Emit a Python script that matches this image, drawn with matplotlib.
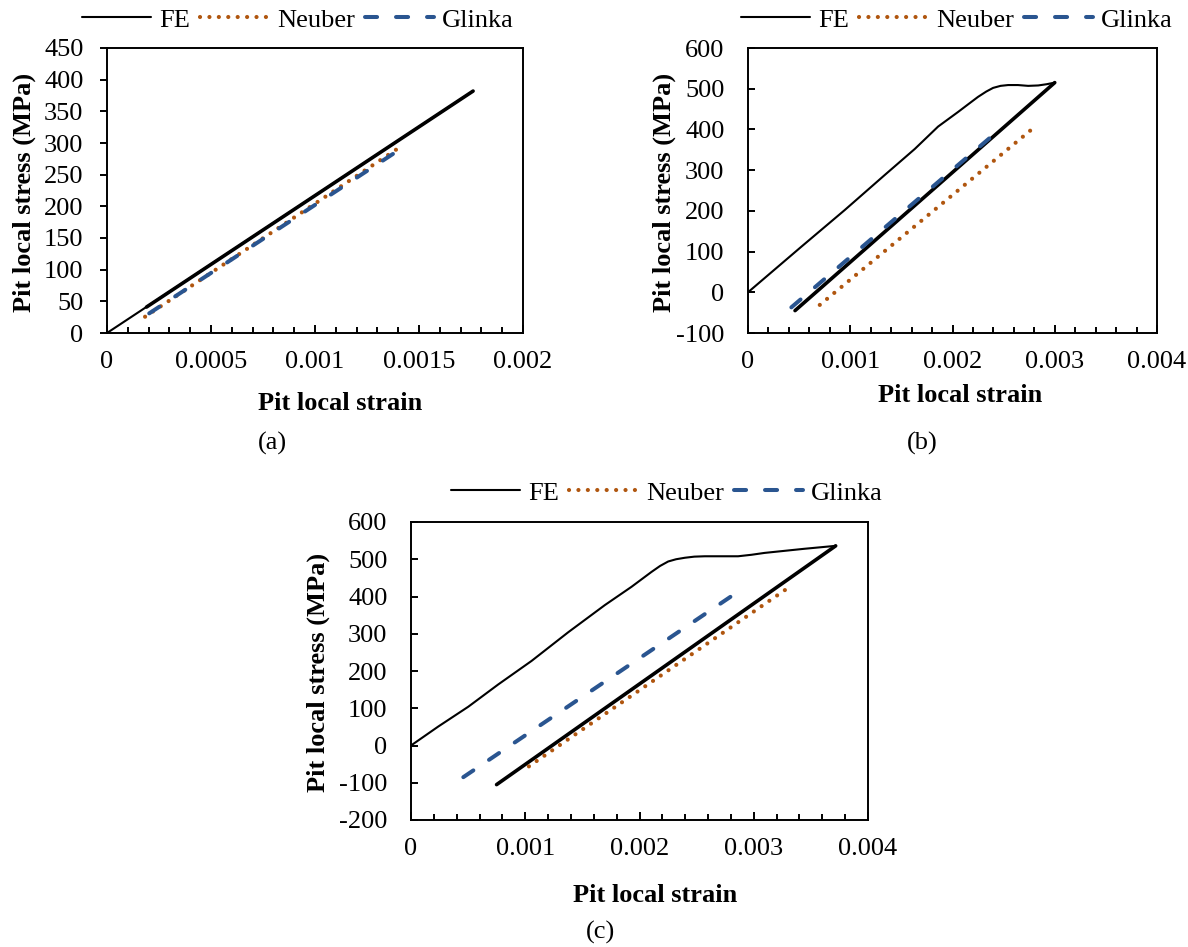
import matplotlib
matplotlib.use("Agg")
import matplotlib.pyplot as plt
from matplotlib.ticker import MultipleLocator, NullLocator, FuncFormatter
from matplotlib.lines import Line2D

plt.rcParams['font.family'] = ['Liberation Serif', 'DejaVu Serif']
plt.rcParams['font.size'] = 19
plt.rcParams['axes.unicode_minus'] = False

# ---- panel (a) ----
a_fe_load_x = [0, 0.00176]
a_fe_load_y = [0, 382]
a_fe_unload_x = [0.00176, 0.00019]
a_fe_unload_y = [382, 41]
a_neuber_x = [0.000183, 0.001404]
a_neuber_y = [25.7, 292.6]
a_glinka_x = [0.000203, 0.001404]
a_glinka_y = [31, 289]

# ---- panel (b) ----
b_fe_load_x = [0, 0.000522, 0.000946, 0.001337, 0.001631, 0.001859, 0.002055,
               0.00216, 0.00225, 0.00233, 0.002397, 0.00247, 0.002544,
               0.00264, 0.00274, 0.002838, 0.00292, 0.003]
b_fe_load_y = [0, 112, 202, 288, 352, 407, 443, 463, 480, 493, 502, 507, 509,
               509, 507, 508, 511, 515]
b_fe_unload_x = [0.003, 0.00046]
b_fe_unload_y = [515, -45]
b_neuber_x = [0.000702, 0.002779]
b_neuber_y = [-31, 401]
b_glinka_x = [0.000424, 0.002397]
b_glinka_y = [-37, 386]

# ---- panel (c) ----
c_fe_load_x = [0, 0.000239, 0.000501, 0.000764, 0.001055, 0.001376, 0.001697,
               0.00193, 0.002105, 0.00218, 0.002251, 0.00232, 0.002397,
               0.00248, 0.002571, 0.00272, 0.002863, 0.00298, 0.003094,
               0.00344, 0.003717]
c_fe_load_y = [0, 51, 104, 164, 227, 304, 377, 426, 466, 482, 494, 500, 504,
               507, 508, 508, 508, 512, 517, 528, 536]
c_fe_unload_x = [0.003717, 0.000749]
c_fe_unload_y = [536, -105]
c_neuber_x = [0.001032, 0.0033]
c_neuber_y = [-56, 423]
c_glinka_x = [0.000458, 0.00281]
c_glinka_y = [-85, 402]

series_names = ['FE', 'Neuber', 'Glinka']

NEUBER_C = '#B0560F'
GLINKA_C = '#2A5590'
W, H = 1188, 947

fe_style = dict(color='black', lw=1.5, solid_capstyle='round')
fe_un_style = dict(color='black', lw=2.6, solid_capstyle='round')
neu_style = dict(color=NEUBER_C, lw=3.0, linestyle=(0, (0.01, 2.25)),
                 dash_capstyle='round')
gli_style = dict(color=GLINKA_C, lw=2.9, linestyle=(0, (3.0, 4.7)),
                 dash_capstyle='round')


def px_axes(fig, left, top, right, bottom):
    return fig.add_axes([left / W, 1 - bottom / H, (right - left) / W,
                         (bottom - top) / H])


def fmt(v, pos):
    return '%g' % round(v, 6)


def setup(ax, xmax, xmaj, xmin, ymin, ymax, ystep, ydir):
    ax.set_xlim(0, xmax)
    ax.set_ylim(ymin, ymax)
    ax.xaxis.set_major_locator(MultipleLocator(xmaj))
    ax.xaxis.set_minor_locator(MultipleLocator(xmin))
    ax.xaxis.set_major_formatter(FuncFormatter(fmt))
    ax.yaxis.set_major_locator(MultipleLocator(ystep))
    ax.yaxis.set_minor_locator(NullLocator())
    ax.tick_params(axis='x', which='major', direction='in', length=6, width=1.4,
                   pad=13, top=False, labelsize=19)
    ax.tick_params(axis='x', which='minor', direction='in', length=4.5,
                   width=1.4, top=False)
    ypad = 12 if ydir == 'out' else 17
    ax.tick_params(axis='y', direction=ydir, length=5, width=1.4, pad=ypad,
                   right=False, labelsize=19)
    for sp in ax.spines.values():
        sp.set_linewidth(1.4)


def draw(ax, fe_lx, fe_ly, fe_ux, fe_uy, nx, ny, gx, gy):
    ax.plot(fe_lx, fe_ly, **fe_style)
    ax.plot(fe_ux, fe_uy, **fe_un_style)
    ax.plot(nx, ny, **neu_style)
    ax.plot(gx, gy, **gli_style)


def legend(fig, cx, cy):
    handles = [Line2D([], [], **fe_style), Line2D([], [], **neu_style),
               Line2D([], [], **gli_style)]
    fig.legend(handles, series_names, loc='center',
               bbox_to_anchor=(cx / W, 1 - cy / H), ncol=3, frameon=False,
               handlelength=2.6, handletextpad=0.3, columnspacing=0.4,
               borderpad=0, borderaxespad=0, fontsize=19)


def labels(fig, xl, yl, cap):
    fig.text(xl[0] / W, 1 - xl[1] / H, 'Pit local strain', ha='center',
             va='center', fontsize=19, fontweight='bold')
    fig.text(yl[0] / W, 1 - yl[1] / H, 'Pit local stress (MPa)', ha='center',
             va='center', rotation=90, fontsize=19, fontweight='bold')
    fig.text(cap[1] / W, 1 - cap[2] / H, cap[0], ha='center', va='center',
             fontsize=19)


fig = plt.figure(figsize=(W / 100, H / 100), dpi=100)

ax_a = px_axes(fig, 107, 48, 523, 333)
setup(ax_a, 0.002, 0.0005, 0.0001, 0, 450, 50, 'out')
draw(ax_a, a_fe_load_x, a_fe_load_y, a_fe_unload_x, a_fe_unload_y,
     a_neuber_x, a_neuber_y, a_glinka_x, a_glinka_y)
legend(fig, 298, 20)
labels(fig, (340, 403), (24, 192), ('(a)', 272, 443))

ax_b = px_axes(fig, 748, 48, 1157, 333)
setup(ax_b, 0.004, 0.001, 0.0002, -100, 600, 100, 'in')
draw(ax_b, b_fe_load_x, b_fe_load_y, b_fe_unload_x, b_fe_unload_y,
     b_neuber_x, b_neuber_y, b_glinka_x, b_glinka_y)
legend(fig, 957, 20)
labels(fig, (960, 395), (664, 192), ('(b)', 922, 443))

ax_c = px_axes(fig, 411, 522, 868, 820)
setup(ax_c, 0.004, 0.001, 0.0002, -200, 600, 100, 'in')
draw(ax_c, c_fe_load_x, c_fe_load_y, c_fe_unload_x, c_fe_unload_y,
     c_neuber_x, c_neuber_y, c_glinka_x, c_glinka_y)
legend(fig, 667, 493)
labels(fig, (655, 895), (318, 672), ('(c)', 601, 932))

fig.savefig('out.png', dpi=100)
